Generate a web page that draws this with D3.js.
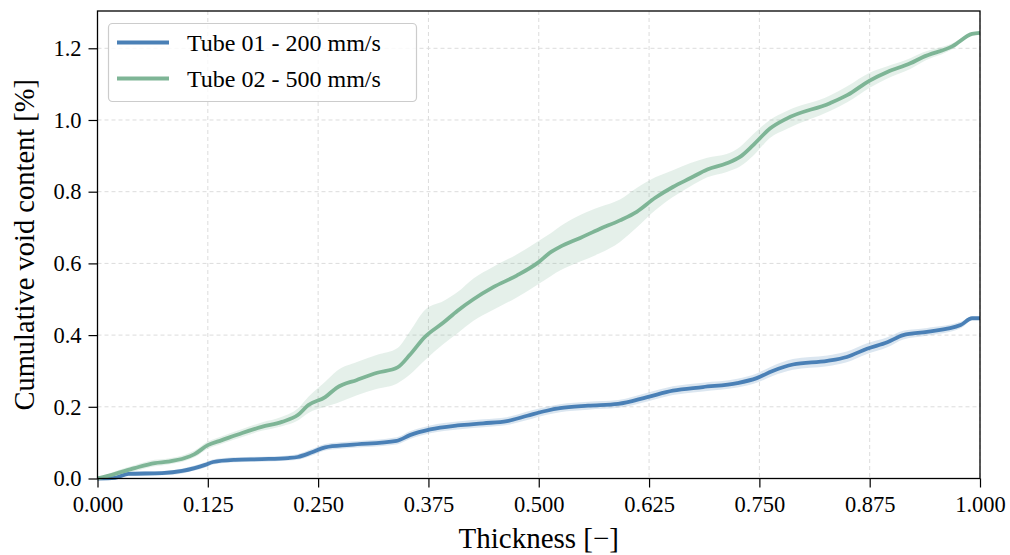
<!DOCTYPE html>
<html>
<head>
<meta charset="utf-8">
<script src="https://cdn.jsdelivr.net/npm/d3@7"></script>
<style>
  html, body { margin: 0; padding: 0; background: #ffffff; }
  svg { display: block; }
  text { font-family: "Liberation Serif", "Times New Roman", serif; fill: #000; }
</style>
</head>
<body>
<svg id="chart" width="1010" height="555"></svg>
<script>
// ---------- data ----------
const xTicks = [0, 0.125, 0.25, 0.375, 0.5, 0.625, 0.75, 0.875, 1.0];
const yTicks = [0, 0.2, 0.4, 0.6, 0.8, 1.0, 1.2];
const seriesNames = ["Tube 01 - 200 mm/s", "Tube 02 - 500 mm/s"];
const seriesColors = ["#4a80b6", "#7eb596"];

const tube01T = [0.000, 0.020, 0.035, 0.073, 0.096, 0.110, 0.122, 0.131, 0.156, 0.186, 0.216, 0.227, 0.243, 0.258, 0.286, 0.339, 0.354, 0.377, 0.408, 0.437, 0.464, 0.487, 0.509, 0.524, 0.556, 0.590, 0.623, 0.652, 0.686, 0.725, 0.747, 0.765, 0.788, 0.827, 0.849, 0.872, 0.895, 0.913, 0.940, 0.978, 0.991, 1.000];
const tube01Mean = [0.000, 0.002, 0.013, 0.015, 0.021, 0.029, 0.038, 0.046, 0.052, 0.054, 0.057, 0.060, 0.073, 0.087, 0.094, 0.105, 0.121, 0.137, 0.148, 0.154, 0.160, 0.175, 0.189, 0.196, 0.203, 0.208, 0.227, 0.245, 0.255, 0.266, 0.280, 0.300, 0.318, 0.328, 0.339, 0.362, 0.380, 0.400, 0.409, 0.428, 0.447, 0.447];
const tube01Lower = [0.000, 0.000, 0.007, 0.009, 0.014, 0.022, 0.031, 0.039, 0.045, 0.047, 0.050, 0.052, 0.064, 0.078, 0.085, 0.095, 0.110, 0.126, 0.137, 0.143, 0.149, 0.163, 0.178, 0.185, 0.192, 0.197, 0.215, 0.233, 0.243, 0.254, 0.267, 0.286, 0.303, 0.313, 0.324, 0.347, 0.366, 0.388, 0.398, 0.419, 0.443, 0.447];
const tube01Upper = [0.000, 0.006, 0.019, 0.021, 0.028, 0.036, 0.045, 0.053, 0.059, 0.061, 0.064, 0.068, 0.082, 0.096, 0.103, 0.115, 0.132, 0.148, 0.159, 0.165, 0.171, 0.187, 0.200, 0.207, 0.214, 0.219, 0.239, 0.257, 0.267, 0.278, 0.293, 0.314, 0.333, 0.343, 0.354, 0.377, 0.394, 0.412, 0.420, 0.437, 0.451, 0.447];

const tube02T = [0.000, 0.020, 0.042, 0.065, 0.080, 0.099, 0.110, 0.125, 0.141, 0.164, 0.186, 0.209, 0.227, 0.239, 0.258, 0.271, 0.294, 0.317, 0.340, 0.354, 0.371, 0.392, 0.408, 0.426, 0.448, 0.475, 0.498, 0.514, 0.524, 0.547, 0.569, 0.592, 0.611, 0.632, 0.652, 0.672, 0.691, 0.713, 0.728, 0.743, 0.762, 0.781, 0.830, 0.850, 0.875, 0.895, 0.921, 0.935, 0.969, 0.991, 1.000];
const tube02Mean = [0.000, 0.013, 0.029, 0.043, 0.047, 0.057, 0.068, 0.093, 0.107, 0.127, 0.144, 0.158, 0.177, 0.205, 0.227, 0.253, 0.275, 0.295, 0.310, 0.345, 0.395, 0.435, 0.468, 0.500, 0.533, 0.566, 0.600, 0.632, 0.646, 0.671, 0.696, 0.720, 0.744, 0.783, 0.813, 0.838, 0.862, 0.879, 0.897, 0.930, 0.976, 1.004, 1.047, 1.070, 1.110, 1.134, 1.158, 1.175, 1.206, 1.240, 1.243];
const tube02Lower = [0.000, 0.006, 0.020, 0.034, 0.039, 0.049, 0.059, 0.083, 0.097, 0.116, 0.133, 0.146, 0.162, 0.183, 0.200, 0.210, 0.232, 0.250, 0.266, 0.290, 0.330, 0.375, 0.405, 0.440, 0.470, 0.505, 0.540, 0.565, 0.580, 0.605, 0.628, 0.660, 0.700, 0.748, 0.785, 0.815, 0.840, 0.855, 0.870, 0.900, 0.950, 0.975, 1.025, 1.050, 1.090, 1.116, 1.142, 1.162, 1.198, 1.238, 1.243];
const tube02Upper = [0.000, 0.020, 0.037, 0.052, 0.056, 0.066, 0.078, 0.103, 0.118, 0.138, 0.156, 0.172, 0.195, 0.228, 0.270, 0.300, 0.325, 0.345, 0.364, 0.410, 0.470, 0.495, 0.520, 0.558, 0.590, 0.625, 0.660, 0.685, 0.703, 0.735, 0.757, 0.778, 0.810, 0.840, 0.860, 0.880, 0.895, 0.905, 0.925, 0.960, 1.000, 1.025, 1.068, 1.095, 1.132, 1.150, 1.172, 1.188, 1.214, 1.242, 1.243];

// ---------- layout ----------
const svg = d3.select("#chart");
const mLeft = 97.5, mRight = 980, mTop = 11, mBottom = 478.5;
const x = d3.scaleLinear().domain([0, 1]).range([mLeft, mRight]);
const y = d3.scaleLinear().domain([0, 1.304]).range([mBottom, mTop]);

// grid
const grid = svg.append("g");
grid.selectAll("line.vx").data(xTicks).enter().append("line")
  .attr("x1", d => x(d)).attr("x2", d => x(d))
  .attr("y1", mTop).attr("y2", mBottom)
  .attr("stroke", "#dcdcdc").attr("stroke-width", 1).attr("stroke-dasharray", "4,3");
grid.selectAll("line.hy").data(yTicks).enter().append("line")
  .attr("x1", mLeft).attr("x2", mRight)
  .attr("y1", d => y(d)).attr("y2", d => y(d))
  .attr("stroke", "#dcdcdc").attr("stroke-width", 1).attr("stroke-dasharray", "4,3");

// series
const series = [
  { t: tube01T, m: tube01Mean, lo: tube01Lower, hi: tube01Upper },
  { t: tube02T, m: tube02Mean, lo: tube02Lower, hi: tube02Upper }
];
const curve = d3.curveMonotoneX;
const area = d3.area().x(d => x(d.t)).y0(d => y(d.lo)).y1(d => y(d.hi)).curve(curve);
const line = d3.line().x(d => x(d.t)).y(d => y(d.m)).curve(curve);

const plot = svg.append("g");
series.forEach((s, i) => {
  const pts = s.t.map((t, k) => ({ t: t, m: s.m[k], lo: s.lo[k], hi: s.hi[k] }));
  plot.append("path").datum(pts).attr("d", area)
    .attr("fill", seriesColors[i]).attr("fill-opacity", 0.2).attr("stroke", "none");
});
series.forEach((s, i) => {
  const pts = s.t.map((t, k) => ({ t: t, m: s.m[k] }));
  plot.append("path").datum(pts).attr("d", line)
    .attr("fill", "none").attr("stroke", seriesColors[i])
    .attr("stroke-width", 3.8).attr("stroke-linejoin", "round").attr("stroke-linecap", "butt");
});

// axes
const xAxis = d3.axisBottom(x).tickValues(xTicks).tickFormat(d3.format(".3f")).tickSizeOuter(0).tickSize(9).tickPadding(9);
const yAxis = d3.axisLeft(y).tickValues(yTicks).tickFormat(d3.format(".1f")).tickSizeOuter(0).tickSize(9).tickPadding(7);
const gx = svg.append("g").attr("transform", `translate(0,${mBottom})`).call(xAxis);
const gy = svg.append("g").attr("transform", `translate(${mLeft},0)`).call(yAxis);
[gx, gy].forEach(g => {
  g.select(".domain").remove();
  g.selectAll(".tick line").attr("stroke", "#000").attr("stroke-width", 1.2);
  g.selectAll(".tick text").attr("font-family", "Liberation Serif, serif").attr("font-size", 22.5).attr("fill", "#000");
});

// frame
svg.append("rect").attr("x", mLeft).attr("y", mTop)
  .attr("width", mRight - mLeft).attr("height", mBottom - mTop)
  .attr("fill", "none").attr("stroke", "#000").attr("stroke-width", 1.3);

// axis labels
svg.append("text").attr("x", (mLeft + mRight) / 2).attr("y", 548)
  .attr("text-anchor", "middle").attr("font-size", 29).text("Thickness [\u2212]");
svg.append("text").attr("transform", `translate(34,${(mTop + mBottom) / 2}) rotate(-90)`)
  .attr("text-anchor", "middle").attr("font-size", 28.5).text("Cumulative void content [%]");

// legend
const lg = svg.append("g");
lg.append("rect").attr("x", 108.5).attr("y", 23.5).attr("width", 308).attr("height", 78)
  .attr("rx", 4).attr("fill", "#fff").attr("fill-opacity", 0.8)
  .attr("stroke", "#cccccc").attr("stroke-width", 1.2);
seriesNames.forEach((name, i) => {
  const yy = 42.5 + i * 36;
  lg.append("line").attr("x1", 117).attr("x2", 169).attr("y1", yy).attr("y2", yy)
    .attr("stroke", seriesColors[i]).attr("stroke-width", 3.8);
  lg.append("text").attr("x", 187).attr("y", yy).attr("dy", "0.35em")
    .attr("font-size", 24).text(name);
});
</script>
</body>
</html>
